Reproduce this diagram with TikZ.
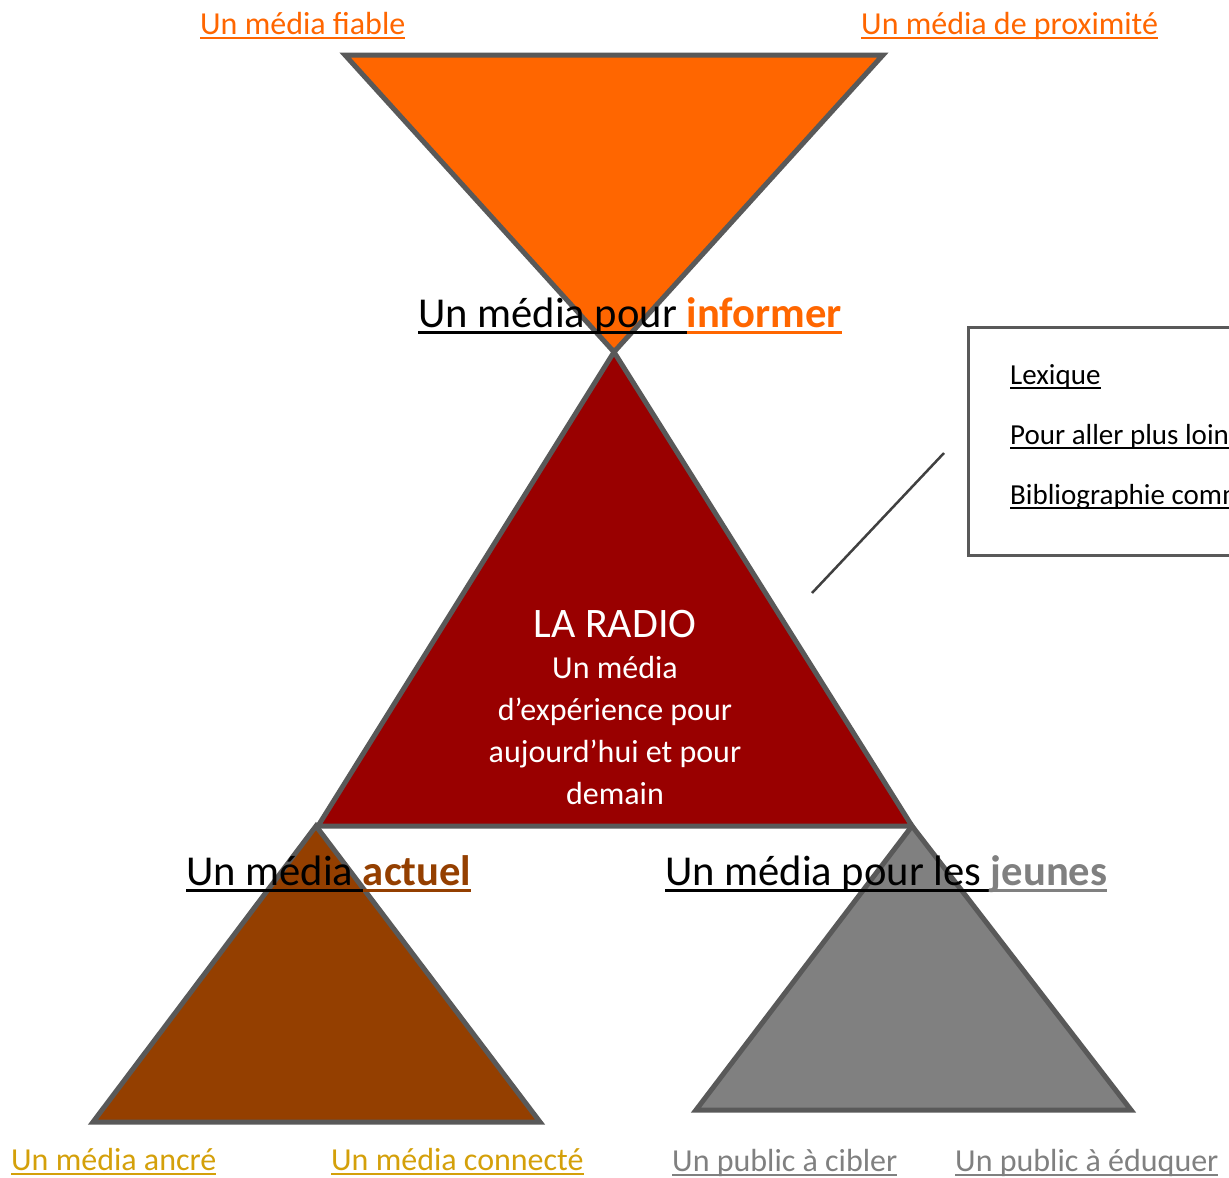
\documentclass[tikz,border=0pt]{standalone}
\usepackage{fontspec}
\setmainfont{Carlito}
\usetikzlibrary{positioning}

\definecolor{orangevif}{HTML}{FF6600}
\definecolor{rougefonce}{HTML}{990000}
\definecolor{brunradio}{HTML}{943F00}
\definecolor{grisradio}{HTML}{808080}
\definecolor{orradio}{HTML}{D4A00A}
\definecolor{contour}{HTML}{595959}

% soulignement : profondeur, épaisseur, texte
\newsavebox\boitesoul
\newcommand\souligne[3]{\sbox\boitesoul{#3}\rlap{\rule[-#1]{\wd\boitesoul}{#2}}\usebox\boitesoul}

\begin{document}
\begin{tikzpicture}[x=1pt, y=-1pt]
    % Styles
    \tikzstyle{triangle} = [draw=contour, line width=5pt, line join=miter]
    \tikzstyle{etiquette} = [anchor=base west, inner sep=0pt, font=\fontsize{32}{38}\selectfont]
    \tikzstyle{titre} = [anchor=base west, inner sep=0pt, font=\fontsize{42.6}{50}\selectfont]
    \tikzstyle{rubrique} = [anchor=base west, inner sep=0pt, font=\fontsize{29}{35}\selectfont]

    \useasboundingbox (0,0) rectangle (1229,1178);
    \clip (0,0) rectangle (1229,1178);

    % Triangles
    \draw[triangle, fill=orangevif] (345,55) -- (883,55) -- (614,352) -- cycle;
    \draw[triangle, fill=rougefonce] (614,352) -- (912,826) -- (318,826) -- cycle;
    \draw[triangle, fill=brunradio] (316,826) -- (540,1122) -- (93,1122) -- cycle;
    \draw[triangle, fill=grisradio] (912,826) -- (1131,1110) -- (696,1110) -- cycle;

    % Centre
    \node[anchor=base, inner sep=0pt, text=white, font=\fontsize{42}{50}\selectfont] (radio) at (615,637) {LA RADIO};
    \node[anchor=north, inner sep=0pt, text=white, align=center, font=\fontsize{32}{42}\selectfont] (devise) at (615,656)
        {Un média\\d’expérience pour\\aujourd’hui et pour\\demain};

    % Titres
    \node[titre] (informer) at (418,327) {\souligne{7pt}{3pt}{Un média pour }\textcolor{orangevif}{\souligne{7pt}{3pt}{\textbf{informer}}}};
    \node[titre] (actuel) at (186,885) {\souligne{7pt}{3pt}{Un média }\textcolor{brunradio}{\souligne{7pt}{3pt}{\textbf{actuel}}}};
    \node[titre] (jeunes) at (665,885) {\souligne{7pt}{3pt}{Un média pour les }\textcolor{grisradio}{\souligne{7pt}{3pt}{\textbf{jeunes}}}};

    % Etiquettes
    \node[etiquette, text=orangevif] (fiable) at (200,34) {\souligne{5pt}{2.4pt}{Un média fiable}};
    \node[etiquette, text=orangevif] (proximite) at (861,34) {\souligne{5pt}{2.4pt}{Un média de proximité}};
    \node[etiquette, text=orradio] (ancre) at (11,1170) {\souligne{5pt}{2.4pt}{Un média ancré}};
    \node[etiquette, text=orradio] (connecte) at (331,1170) {\souligne{5pt}{2.4pt}{Un média connecté}};
    \node[etiquette, text=grisradio] (cibler) at (672,1171) {\souligne{5pt}{2.4pt}{Un public à cibler}};
    \node[etiquette, text=grisradio] (eduquer) at (955,1171) {\souligne{5pt}{2.4pt}{Un public à éduquer}};

    % Encart
    \node[draw=contour, line width=2.5pt, anchor=north west, minimum width=400pt, minimum height=228pt] (encart) at (967,326) {};
    \node[rubrique] (lexique) at (1010,384) {\souligne{4.5pt}{2pt}{Lexique}};
    \node[rubrique] (loin) at (1010,444) {\souligne{4.5pt}{2pt}{Pour aller plus loin}};
    \node[rubrique] (biblio) at (1010,504) {\souligne{4.5pt}{2pt}{Bibliographie commentée}};

    \coordinate (depart) at (812,593);
    \coordinate (arrivee) at (944,453);
    \draw[line width=2.5pt, draw=black!75] (depart) -- (arrivee);
\end{tikzpicture}
\end{document}
